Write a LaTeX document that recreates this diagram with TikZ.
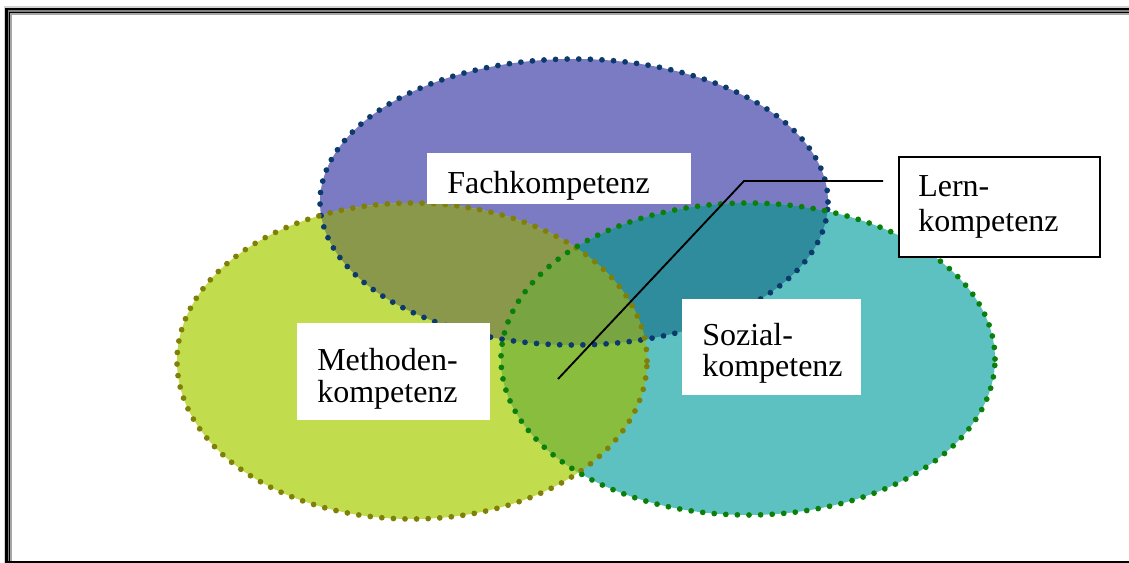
\documentclass[tikz,border=0pt]{standalone}
\usepackage{fontspec}
\setmainfont{Liberation Serif}
\begin{document}
\begin{tikzpicture}[x=0.75pt, y=-0.75pt,
    rim/.style={line width=4.3pt, line cap=round, dash pattern=on 0pt off 8.7pt},
    labeltext/.style={anchor=base west, inner sep=0pt, font=\fontsize{24}{24}\selectfont},
    callout/.style={draw=black, line width=1.4pt}]
  \definecolor{fachfill}{HTML}{7B7BC3}
  \definecolor{methfill}{HTML}{C1DD4D}
  \definecolor{sozfill}{HTML}{5EC1C1}
  \definecolor{fmfill}{HTML}{8A984C}
  \definecolor{fsfill}{HTML}{2F8C9C}
  \definecolor{msfill}{HTML}{88BD3E}
  \definecolor{allfill}{HTML}{78A442}
  \definecolor{fachrim}{HTML}{0C3A6C}
  \definecolor{methrim}{HTML}{808008}
  \definecolor{sozrim}{HTML}{0A800A}

  \useasboundingbox (0,0) rectangle (1129,563);

  % page frame (left, top and bottom rules)
  \draw[gray!35, line width=0.8pt] (1135,7) -- (5,7) -- (5,570);
  \draw[black, line width=2pt] (1135,9.2) -- (6.7,9.2) -- (6.7,570);
  \draw[gray, line width=0.8pt] (1135,11) -- (8.5,11) -- (8.5,570);
  \draw[black, line width=0.8pt] (1135,12.3) -- (9.6,12.3) -- (9.6,570);
  \draw[gray!70, line width=1.6pt] (1135,14) -- (11.3,14) -- (11.3,570);
  \draw[black, line width=1.2pt] (5,562) -- (1135,562);

  % base fills of the three circles
  \fill[fachfill] (574,202) ellipse [x radius=190.5pt, y radius=107.25pt];
  \fill[methfill] (412,361) ellipse [x radius=176.25pt, y radius=118.5pt];
  \fill[sozfill] (748,359) ellipse [x radius=185.25pt, y radius=117pt];

  % overlaps
  \begin{scope}
    \clip (574,202) ellipse [x radius=190.5pt, y radius=107.25pt];
    \fill[fmfill] (412,361) ellipse [x radius=176.25pt, y radius=118.5pt];
    \fill[fsfill] (748,359) ellipse [x radius=185.25pt, y radius=117pt];
  \end{scope}
  \begin{scope}
    \clip (412,361) ellipse [x radius=176.25pt, y radius=118.5pt];
    \fill[msfill] (748,359) ellipse [x radius=185.25pt, y radius=117pt];
  \end{scope}
  \begin{scope}
    \clip (574,202) ellipse [x radius=190.5pt, y radius=107.25pt];
    \clip (412,361) ellipse [x radius=176.25pt, y radius=118.5pt];
    \fill[allfill] (748,359) ellipse [x radius=185.25pt, y radius=117pt];
  \end{scope}

  % dotted rims
  \draw[rim, fachrim] (574,202) ellipse [x radius=190.5pt, y radius=107.25pt];
  \draw[rim, methrim] (412,361) ellipse [x radius=176.25pt, y radius=118.5pt];
  \draw[rim, sozrim] (748,359) ellipse [x radius=185.25pt, y radius=117pt];

  % white label panels
  \fill[white] (427,153) rectangle (691,204);
  \fill[white] (297,323) rectangle (490,420);
  \fill[white] (682,299) rectangle (861,395);

  % labels
  \node[labeltext] (fach) at (447,194) {Fachkompetenz};
  \node[labeltext] (meth) at (317,370) {\parbox[t]{200pt}{\fontsize{24}{24}\selectfont Methoden-\\kompetenz}};
  \node[labeltext] (soz) at (702,345) {\parbox[t]{200pt}{\fontsize{24}{23.5}\selectfont Sozial-\\kompetenz}};

  % boxed label with callout line
  \node[draw=black, line width=1.2pt, fill=white, anchor=north west, inner sep=0pt,
        minimum width=150.75pt, minimum height=75pt] (lernbox) at (898,156) {};
  \node[labeltext] (lern) at (918,197) {\parbox[t]{200pt}{\fontsize{24}{26}\selectfont Lern-\\kompetenz}};

  \coordinate (calloutstart) at (883,181);
  \coordinate (calloutbend) at (744,181);
  \coordinate (callouttip) at (558,379);
  \draw[callout] (calloutstart) -- (calloutbend) -- (callouttip);
\end{tikzpicture}
\end{document}
